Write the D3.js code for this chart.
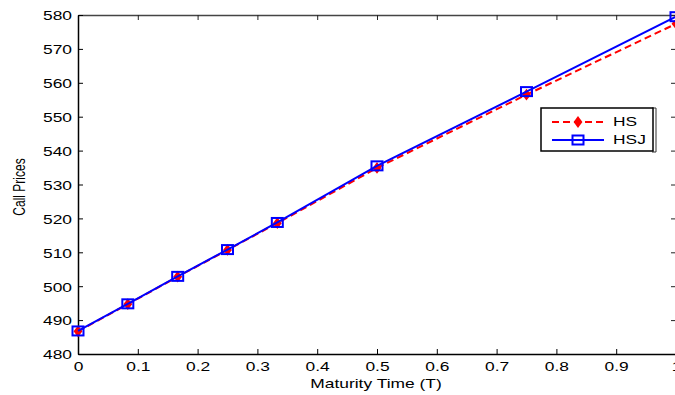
<!DOCTYPE html>
<html><head><meta charset="utf-8">
<script src="https://cdn.jsdelivr.net/npm/d3@7"></script>
<style>
html,body{margin:0;padding:0;background:#fff;}
svg{display:block;}
text{font-family:"Liberation Sans",Arial,sans-serif;fill:#000;}
</style></head>
<body>
<svg id="chart" width="675" height="395"></svg>
<script>
const maturity = [0, 0.0833, 0.1667, 0.25, 0.3333, 0.5, 0.75, 1];
const hsValues = [486.7, 494.7, 502.8, 510.7, 518.6, 534.9, 556.5, 577.4];
const hsjValues = [486.8, 494.8, 502.9, 510.8, 518.8, 535.5, 557.4, 579.5];
const xTicks = [0, 0.1, 0.2, 0.3, 0.4, 0.5, 0.6, 0.7, 0.8, 0.9, 1];
const yTicks = [480, 490, 500, 510, 520, 530, 540, 550, 560, 570, 580];
const seriesNames = ["HS", "HSJ"];

const SX = 1.45; // horizontal text stretch
const svg = d3.select("#chart");
const L = 78, R = 676, T = 15, B = 354;
const x = d3.scaleLinear().domain([0, 1]).range([L, R]);
const y = d3.scaleLinear().domain([480, 580]).range([B, T]);

function stretchText(sel) {
  sel.selectAll("text").each(function () {
    const t = d3.select(this);
    const xv = +t.attr("x") || 0;
    t.attr("x", xv / SX).attr("transform", `scale(${SX},1)`);
  });
}

// frame: top and right
svg.append("g").attr("transform", `translate(0,${T})`)
  .call(d3.axisTop(x).tickValues(xTicks).tickSize(-5).tickSizeOuter(0).tickFormat(""))
  .call(g => g.select(".domain").attr("stroke", "#444").attr("stroke-width", 1.5))
  .call(g => g.selectAll(".tick line").attr("stroke", "#222"));
svg.append("g").attr("transform", `translate(${R},0)`)
  .call(d3.axisRight(y).tickValues(yTicks).tickSize(-5).tickSizeOuter(0).tickFormat(""))
  .call(g => g.selectAll(".tick line").attr("stroke", "#222"));

// bottom axis
const gx = svg.append("g").attr("transform", `translate(0,${B})`)
  .call(d3.axisBottom(x).tickValues(xTicks).tickSize(-5).tickSizeOuter(0).tickPadding(8).tickFormat(d3.format("")))
  .call(g => g.select(".domain").attr("stroke", "#000").attr("stroke-width", 1.5))
  .call(g => g.selectAll(".tick text").attr("font-size", 12).attr("font-family", "Liberation Sans, Arial, sans-serif"));
stretchText(gx);

// left axis
const gy = svg.append("g").attr("transform", `translate(${L},0)`)
  .call(d3.axisLeft(y).tickValues(yTicks).tickSize(-5).tickSizeOuter(0).tickPadding(6))
  .call(g => g.select(".domain").attr("stroke", "#000").attr("stroke-width", 1.5))
  .call(g => g.selectAll(".tick text").attr("font-size", 12).attr("dy", "0.4em").attr("font-family", "Liberation Sans, Arial, sans-serif"));
stretchText(gy);

// axis titles
svg.append("text").attr("transform", `translate(376,388) scale(${SX},1)`)
  .attr("text-anchor", "middle").attr("font-size", 12).text("Maturity Time (T)");
svg.append("text").attr("transform", `translate(25,187) scale(${SX},1) rotate(-90)`)
  .attr("text-anchor", "middle").attr("font-size", 12).text("Call Prices");

const line = d3.line().x(d => x(d[0])).y(d => y(d[1]));
const hsData = maturity.map((m, i) => [m, hsValues[i]]);
const hsjData = maturity.map((m, i) => [m, hsjValues[i]]);
const diamond = d3.symbol().type(d3.symbolDiamond).size(40);

// HS
svg.append("path").datum(hsData).attr("d", line).attr("fill", "none")
  .attr("stroke", "#ff0000").attr("stroke-width", 2).attr("stroke-dasharray", "7,4");
svg.selectAll(".hsm").data(hsData).enter().append("path").attr("class", "hsm")
  .attr("d", diamond).attr("transform", d => `translate(${x(d[0])},${y(d[1])}) scale(1.3,1)`)
  .attr("fill", "#ff0000");

// HSJ
svg.append("path").datum(hsjData).attr("d", line).attr("fill", "none")
  .attr("stroke", "#0000ff").attr("stroke-width", 2);
svg.selectAll(".hsjm").data(hsjData).enter().append("rect").attr("class", "hsjm")
  .attr("x", d => x(d[0]) - 5.5).attr("y", d => y(d[1]) - 4.5)
  .attr("width", 11).attr("height", 9)
  .attr("fill", "none").attr("stroke", "#0000ff").attr("stroke-width", 2);

// legend
const lg = svg.append("g");
lg.append("path").attr("d", "M652,108H656V152H652").attr("fill", "none").attr("stroke", "#333").attr("stroke-width", 1);
lg.append("rect").attr("x", 541).attr("y", 108).attr("width", 112).attr("height", 43)
  .attr("fill", "#fff").attr("stroke", "#000").attr("stroke-width", 1.5);
lg.append("line").attr("x1", 552).attr("x2", 604).attr("y1", 122).attr("y2", 122)
  .attr("stroke", "#ff0000").attr("stroke-width", 2).attr("stroke-dasharray", "7,4");
lg.append("path").attr("d", diamond).attr("transform", "translate(578,122) scale(1.3,1)").attr("fill", "#ff0000");
lg.append("line").attr("x1", 552).attr("x2", 604).attr("y1", 140).attr("y2", 140)
  .attr("stroke", "#0000ff").attr("stroke-width", 2);
lg.append("rect").attr("x", 572.5).attr("y", 135.5).attr("width", 11).attr("height", 9)
  .attr("fill", "none").attr("stroke", "#0000ff").attr("stroke-width", 2);
lg.selectAll(".lt").data(seriesNames).enter().append("text").attr("class", "lt")
  .attr("transform", (d, i) => `translate(613,${126 + i * 18}) scale(${SX},1)`)
  .attr("font-size", 12).text(d => d);
</script>
</body></html>
